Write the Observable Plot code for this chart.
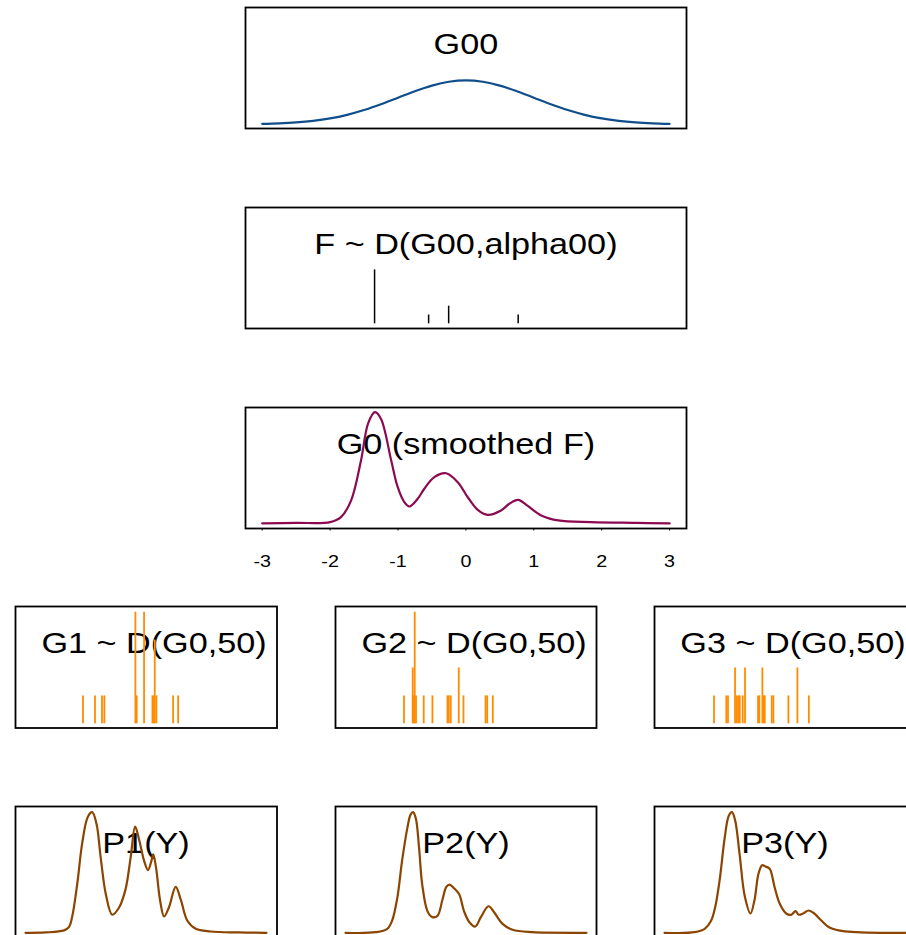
<!DOCTYPE html>
<html><head><meta charset="utf-8">
<script src="https://cdn.jsdelivr.net/npm/d3@7"></script>
<script src="https://cdn.jsdelivr.net/npm/@observablehq/plot@0.6"></script>
<style>
body{margin:0;background:#fff;}
#chart{position:relative;width:906px;height:935px;overflow:hidden;background:#fff;font-family:"Liberation Sans",Arial,sans-serif;}
#chart svg{position:absolute;overflow:visible;}
</style></head><body><div id="chart"></div>
<script>
// ---------- data ----------
const xTicks = [-3, -2, -1, 0, 1, 2, 3];

const g00X = [-3, -2.75, -2.5, -2.25, -2, -1.75, -1.5, -1.25, -1, -0.75, -0.5, -0.25, 0, 0.25, 0.5, 0.75, 1, 1.25, 1.5, 1.75, 2, 2.25, 2.5, 2.75, 3];
const g00Y = [0.0044, 0.0091, 0.0175, 0.0317, 0.054, 0.0863, 0.1295, 0.1826, 0.242, 0.3011, 0.3521, 0.3867, 0.3989, 0.3867, 0.3521, 0.3011, 0.242, 0.1826, 0.1295, 0.0863, 0.054, 0.0317, 0.0175, 0.0091, 0.0044];

const fX = [-1.345, -0.549, -0.254, 0.77];
const fW = [0.49, 0.08, 0.16, 0.08];

const g0X = [-3, -2.5, -2.0, -1.84, -1.69, -1.545, -1.44, -1.34, -1.25, -1.10, -1.005, -0.907, -0.834, -0.71, -0.613, -0.465, -0.293, -0.12, 0.027, 0.174, 0.32, 0.517, 0.64, 0.77, 0.91, 1.11, 1.36, 1.85, 2.5, 3];
const g0Y = [0.004, 0.008, 0.015, 0.06, 0.21, 0.567, 0.9, 1.0, 0.94, 0.567, 0.33, 0.194, 0.155, 0.224, 0.314, 0.418, 0.453, 0.373, 0.238, 0.125, 0.08, 0.119, 0.18, 0.215, 0.16, 0.075, 0.03, 0.015, 0.008, 0.003];

const g1X = [-1.569, -1.270, -1.096, -1.037, -0.264, -0.231, -0.048, 0.160, 0.193, 0.218, 0.259, 0.675, 0.800];
const g1N = [1, 1, 1, 1, 4, 1, 4, 1, 1, 3, 1, 1, 1];

const g2X = [-1.544, -1.327, -1.302, -1.277, -1.244, -1.053, -0.836, -0.462, -0.429, -0.379, -0.180, -0.063, 0.486, 0.528, 0.668];
const g2N = [1, 2, 1, 4, 1, 1, 1, 1, 1, 1, 2, 1, 1, 1, 1];

const g3X = [-1.768, -1.461, -1.419, -1.244, -1.203, -1.162, -1.127, -1.053, -0.995, -0.671, -0.638, -0.563, -0.529, -0.504, -0.329, -0.289, 0.085, 0.309, 0.594];
const g3N = [1, 1, 1, 2, 1, 1, 1, 1, 2, 1, 1, 2, 1, 1, 1, 1, 1, 2, 1];

const p1X = [-3, -2.5, -2.04, -1.92, -1.84, -1.71, -1.59, -1.45, -1.34, -1.23, -1.13, -1.0, -0.84, -0.67, -0.51, -0.38, -0.27, -0.17, -0.05, 0.05, 0.13, 0.18, 0.25, 0.35, 0.45, 0.57, 0.74, 0.87, 1.03, 1.24, 1.61, 2.3, 3];
const p1Y = [0, 0.003, 0.02, 0.047, 0.13, 0.41, 0.74, 0.96, 1.0, 0.9, 0.63, 0.32, 0.15, 0.21, 0.36, 0.63, 0.88, 0.77, 0.60, 0.52, 0.59, 0.65, 0.54, 0.27, 0.135, 0.21, 0.38, 0.27, 0.10, 0.033, 0.011, 0.003, 0];

const p2X = [-3, -2.25, -1.96, -1.84, -1.71, -1.59, -1.46, -1.38, -1.32, -1.25, -1.17, -1.09, -0.96, -0.84, -0.71, -0.59, -0.49, -0.41, -0.30, -0.17, -0.05, 0.08, 0.23, 0.37, 0.56, 0.70, 0.91, 1.16, 1.66, 3];
const p2Y = [0, 0.005, 0.033, 0.10, 0.29, 0.60, 0.87, 0.98, 1.0, 0.95, 0.71, 0.40, 0.18, 0.13, 0.14, 0.27, 0.38, 0.40, 0.37, 0.32, 0.18, 0.09, 0.052, 0.13, 0.22, 0.17, 0.074, 0.025, 0.005, 0];

const p3X = [-3, -2.25, -2.0, -1.84, -1.74, -1.63, -1.50, -1.40, -1.32, -1.24, -1.13, -1.0, -0.86, -0.76, -0.66, -0.57, -0.49, -0.38, -0.26, -0.13, 0.03, 0.16, 0.26, 0.34, 0.45, 0.59, 0.74, 0.91, 1.12, 1.49, 3];
const p3Y = [0, 0.005, 0.033, 0.10, 0.21, 0.43, 0.79, 0.97, 1.0, 0.93, 0.65, 0.30, 0.16, 0.27, 0.49, 0.56, 0.55, 0.53, 0.38, 0.24, 0.16, 0.15, 0.18, 0.15, 0.16, 0.185, 0.157, 0.10, 0.041, 0.011, 0];

const titles = ["G00", "F ~ D(G00,alpha00)", "G0 (smoothed F)", "G1 ~ D(G0,50)", "G2 ~ D(G0,50)", "G3 ~ D(G0,50)", "P1(Y)", "P2(Y)", "P3(Y)"];
const titleX = [0, 0, 0, 0.2, 0.2, 0.2, 0, 0, 0];

// ---------- helpers ----------
const chart = document.getElementById("chart");
const FONT = '"Liberation Sans", Arial, sans-serif';
const STRETCH = 1.16;
const PAD = 4;
const pts = (xs, ys) => xs.map((x, i) => ({x, y: ys[i]}));

function stretch(svg, k) {
  svg.querySelectorAll("text").forEach(t => {
    const tr = t.getAttribute("transform") || "";
    t.setAttribute("transform", tr + ` scale(${k},1)`);
  });
}

function panel({left, right, top, bottom, xr, yDomain, yr, marks, extraBottom = 0}) {
  const W = right - left, H = bottom - top;
  const ox = left - PAD, oy = top - PAD;
  const svg = Plot.plot({
    width: W + 2 * PAD, height: H + 2 * PAD + extraBottom,
    marginLeft: PAD, marginRight: PAD, marginTop: PAD, marginBottom: PAD + extraBottom,
    x: {domain: [-3, 3], range: [xr[0] - ox, xr[1] - ox], axis: null},
    y: {domain: yDomain, range: [yr[0] - oy, yr[1] - oy], axis: null},
    style: {background: "transparent", fontFamily: FONT, overflow: "visible"},
    marks: [...marks, Plot.frame({stroke: "black", strokeWidth: 1.8})]
  });
  svg.style.left = ox + "px";
  svg.style.top = oy + "px";
  stretch(svg, STRETCH);
  chart.appendChild(svg);
}

const title = (i) => Plot.text([titles[i]], {x: () => titleX[i], text: d => d, frameAnchor: "top", lineAnchor: "bottom", dy: 46.3, fontSize: 29.5, fill: "black", textAnchor: "middle"});

// ---------- top column ----------
const TL = 244.5, TR = 685.5, TX = [261.2, 668.6];

panel({left: TL, right: TR, top: 7, bottom: 128, xr: TX, yDomain: [0, 1], yr: [123.8, 13.8],
  marks: [title(0), Plot.line(pts(g00X, g00Y), {x: "x", y: "y", stroke: "#104E8B", strokeWidth: 2.2, curve: "catmull-rom"})]});

panel({left: TL, right: TR, top: 207, bottom: 328, xr: TX, yDomain: [0, 1], yr: [323.3, 213.3],
  marks: [title(1), Plot.ruleX(pts(fX, fW), {x: "x", y1: 0, y2: "y", stroke: "black", strokeWidth: 1.5})]});

panel({left: TL, right: TR, top: 407, bottom: 528, xr: TX, yDomain: [0, 1], yr: [523.3, 411.7], extraBottom: 50,
  marks: [
    title(2),
    Plot.line(pts(g0X, g0Y), {x: "x", y: "y", stroke: "#8B0A50", strokeWidth: 2.2, curve: "catmull-rom"}),
    Plot.ruleX(xTicks, {x: d => d, insetTop: 121, insetBottom: -2.5, stroke: "black", strokeWidth: 1}),
    Plot.text(xTicks, {x: d => d, text: d => String(d), frameAnchor: "bottom", lineAnchor: "bottom", dy: 38.7, fontSize: 17, fill: "black"})
  ]});

// ---------- G row ----------
const cols = [[14.5, 276, [24.5, 265.5]], [334.5, 595.5, [344.5, 585.5]], [654.3, 915.5, [664.3, 905.3]]];
const gData = [[g1X, g1N], [g2X, g2N], [g3X, g3N]];
gData.forEach(([gx, gn], i) => {
  const [l, r, xr] = cols[i];
  panel({left: l, right: r, top: 606, bottom: 727.5, xr, yDomain: [0, 4], yr: [723.3, 611.7],
    marks: [title(3 + i), Plot.ruleX(pts(gx, gn), {x: "x", y1: 0, y2: "y", stroke: "#FF8C00", strokeWidth: 1.8})]});
});

// ---------- P row ----------
const pData = [[p1X, p1Y], [p2X, p2Y], [p3X, p3Y]];
pData.forEach(([px, py], i) => {
  const [l, r, xr] = cols[i];
  panel({left: l, right: r, top: 806, bottom: 966, xr, yDomain: [0, 1], yr: [932.3, 811.7],
    marks: [title(6 + i), Plot.line(pts(px, py), {x: "x", y: "y", stroke: "#8B4500", strokeWidth: 2.2, curve: "catmull-rom"})]});
});
</script></body></html>
